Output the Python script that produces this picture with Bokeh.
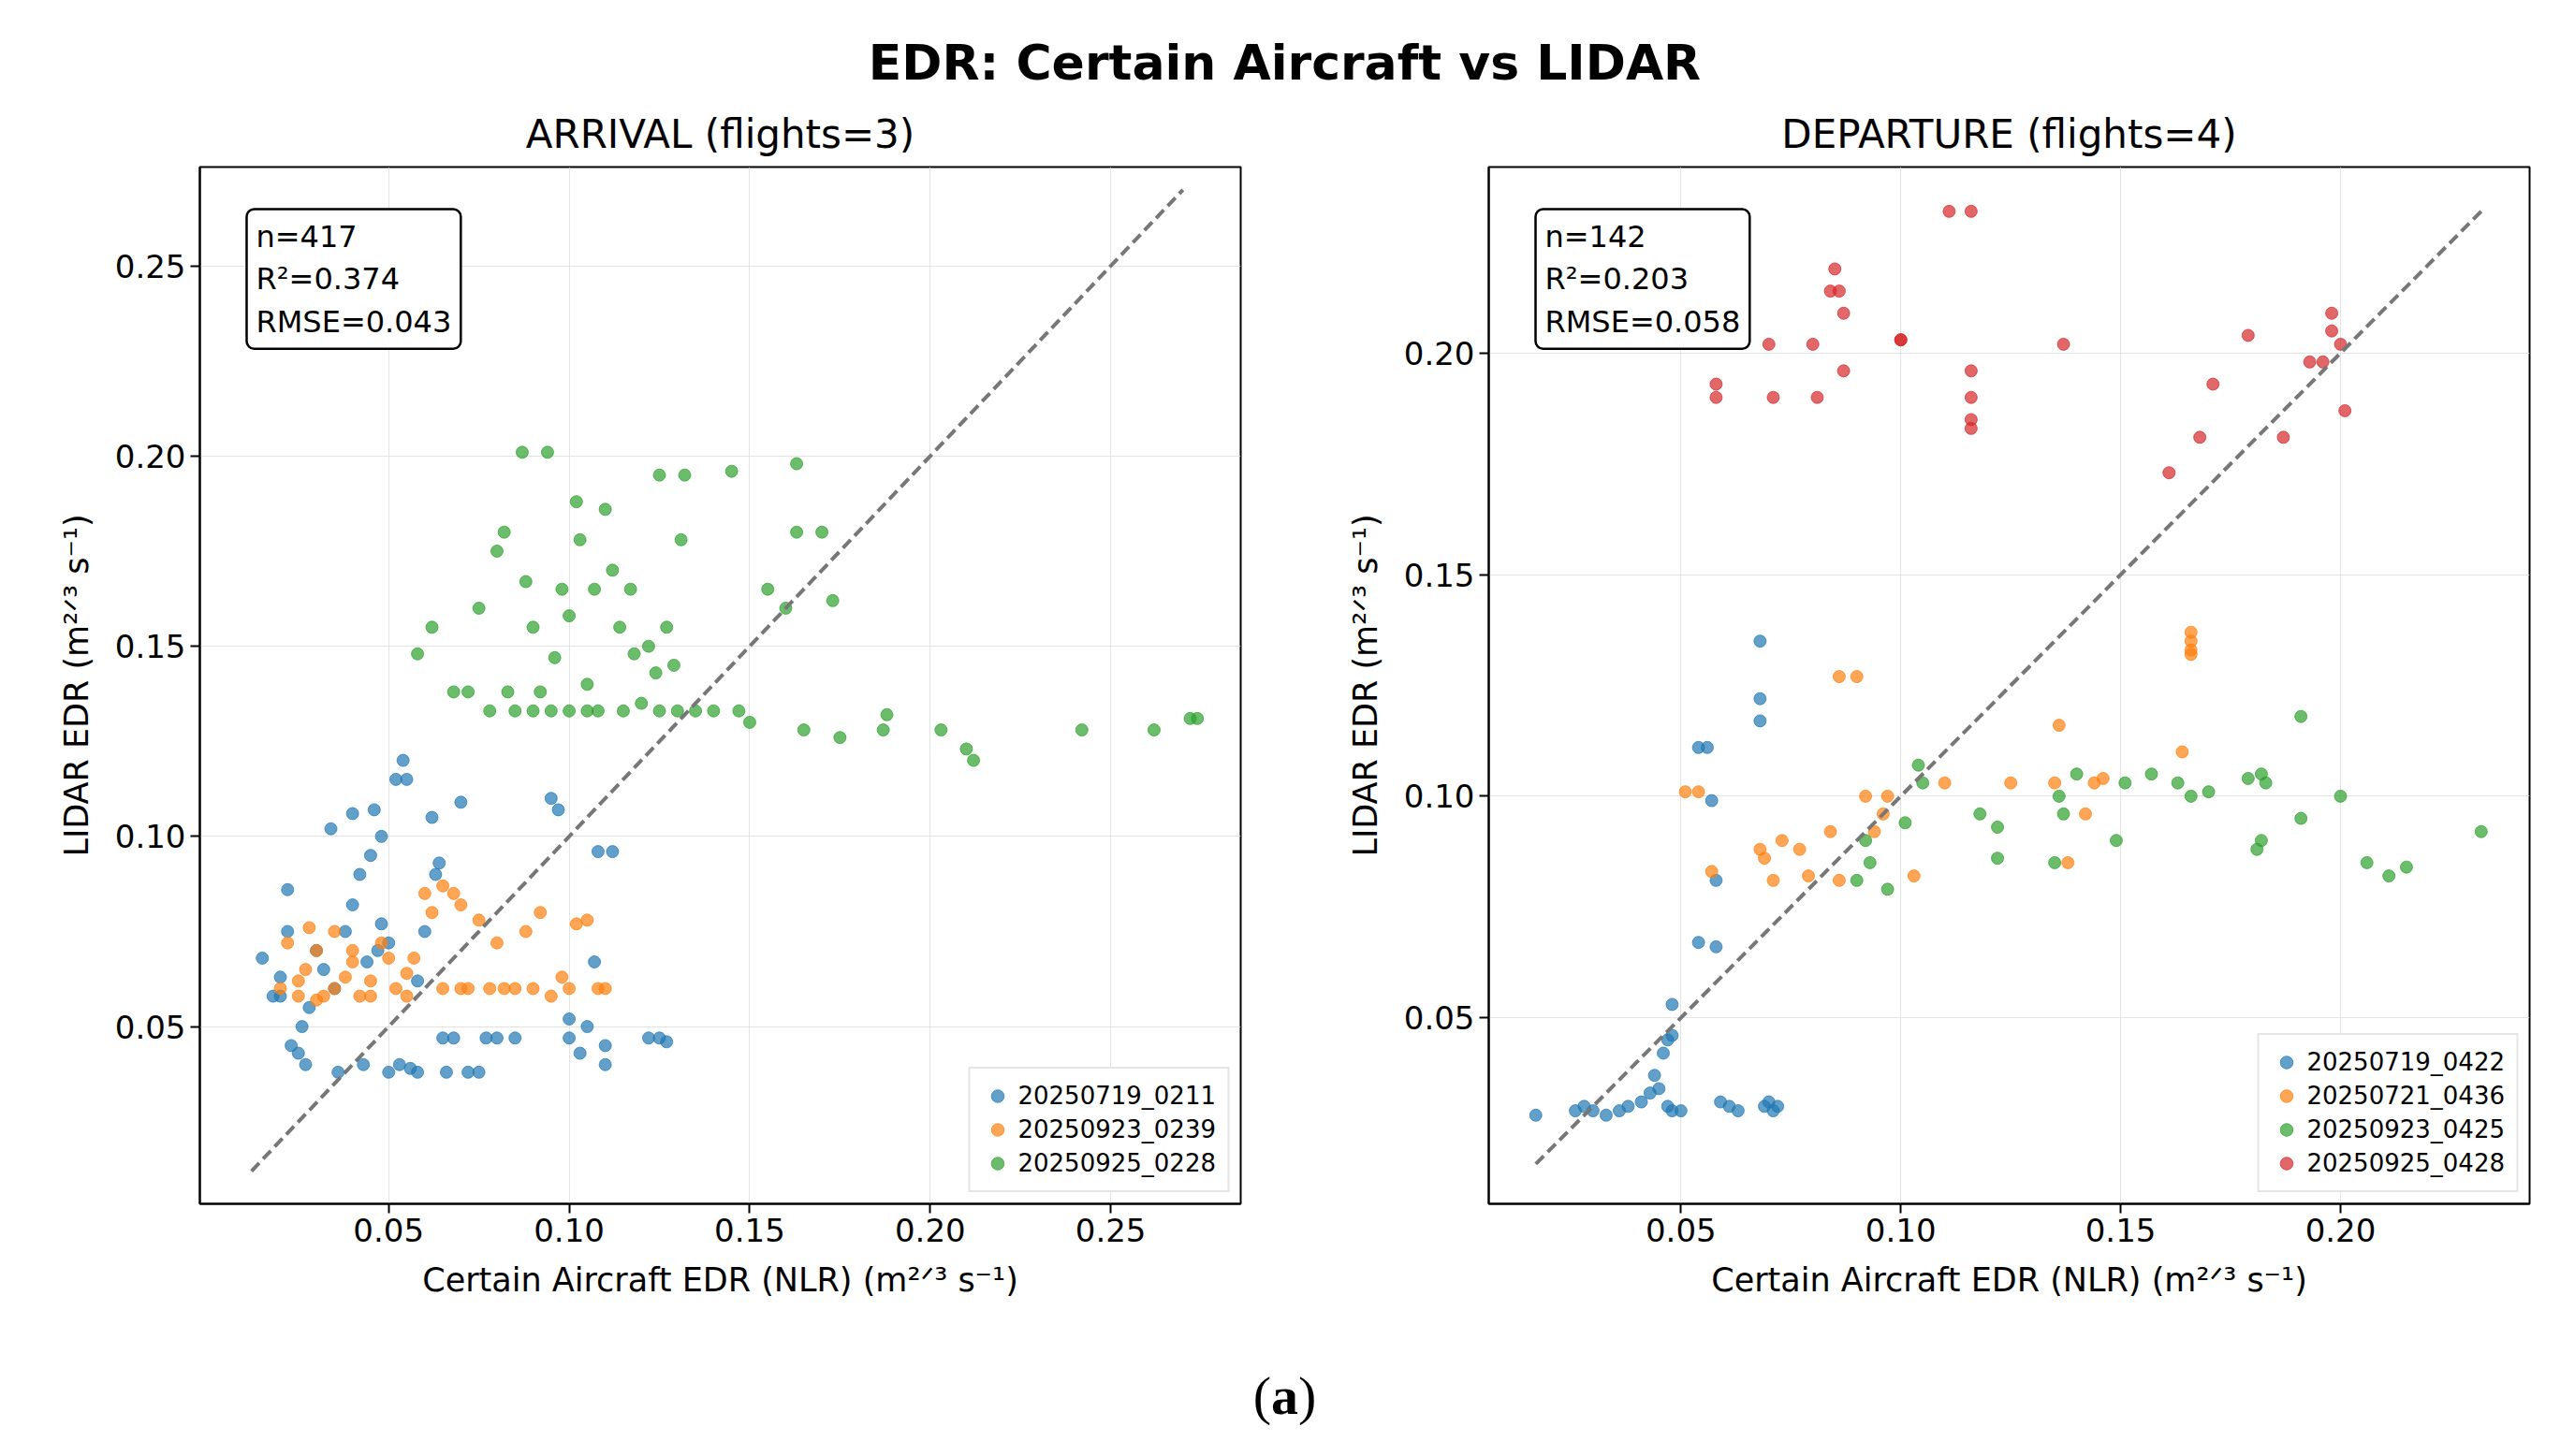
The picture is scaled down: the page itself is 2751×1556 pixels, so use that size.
from bokeh.plotting import figure
from bokeh.layouts import column, row
from bokeh.models import Div, Label, FixedTicker, NumeralTickFormatter, Range1d, Legend, LegendItem
from bokeh.embed import file_html
from bokeh.resources import INLINE

arr_blue_x = [0.015,0.018,0.02,0.022,0.022,0.023,0.025,0.027,0.028,0.03,0.032,0.034,0.035,0.036,0.038,0.04,0.04,0.042,0.043,0.045,0.046,0.047,0.048,0.048,0.05,0.052,0.053,0.054,0.055,0.056,0.058,0.06,0.062,0.063,0.064,0.065,0.066,0.068,0.07,0.072,0.075,0.077,0.08,0.085,0.095,0.097,0.1,0.1,0.103,0.105,0.107,0.108,0.11,0.11,0.112,0.122,0.125,0.127,0.02,0.026,0.044,0.05,0.058]
arr_blue_y = [0.068,0.058,0.063,0.075,0.086,0.045,0.043,0.04,0.055,0.07,0.065,0.102,0.06,0.038,0.075,0.082,0.106,0.09,0.04,0.095,0.107,0.07,0.077,0.1,0.038,0.115,0.04,0.12,0.115,0.039,0.038,0.075,0.105,0.09,0.093,0.047,0.038,0.047,0.109,0.038,0.038,0.047,0.047,0.047,0.11,0.107,0.047,0.052,0.043,0.05,0.067,0.096,0.04,0.045,0.096,0.047,0.047,0.046,0.058,0.05,0.067,0.072,0.062]
arr_orange_x = [0.02,0.022,0.025,0.027,0.028,0.03,0.032,0.035,0.038,0.04,0.042,0.045,0.048,0.05,0.052,0.055,0.057,0.06,0.062,0.065,0.068,0.07,0.072,0.075,0.078,0.08,0.082,0.085,0.088,0.09,0.092,0.095,0.098,0.1,0.102,0.105,0.108,0.11,0.065,0.07,0.045,0.035,0.025,0.03,0.04,0.055]
arr_orange_y = [0.06,0.072,0.058,0.065,0.076,0.07,0.058,0.075,0.063,0.07,0.058,0.062,0.072,0.068,0.06,0.058,0.068,0.085,0.08,0.087,0.085,0.082,0.06,0.078,0.06,0.072,0.06,0.06,0.075,0.06,0.08,0.058,0.063,0.06,0.077,0.078,0.06,0.06,0.06,0.06,0.058,0.06,0.062,0.057,0.067,0.064]
arr_green_x = [0.058,0.062,0.068,0.072,0.075,0.078,0.08,0.082,0.083,0.085,0.087,0.088,0.09,0.092,0.094,0.096,0.098,0.1,0.1,0.102,0.103,0.105,0.107,0.108,0.11,0.112,0.114,0.115,0.117,0.118,0.12,0.122,0.124,0.125,0.127,0.129,0.131,0.132,0.135,0.14,0.145,0.147,0.15,0.155,0.16,0.163,0.163,0.165,0.17,0.173,0.175,0.187,0.188,0.203,0.21,0.212,0.242,0.262,0.272,0.274,0.09,0.095,0.105,0.125,0.13]
arr_green_y = [0.148,0.155,0.138,0.138,0.16,0.133,0.175,0.18,0.138,0.133,0.201,0.167,0.155,0.138,0.201,0.147,0.165,0.158,0.133,0.188,0.178,0.14,0.165,0.133,0.186,0.17,0.155,0.133,0.165,0.148,0.135,0.15,0.143,0.195,0.155,0.145,0.178,0.195,0.133,0.133,0.196,0.133,0.13,0.165,0.16,0.18,0.198,0.128,0.18,0.162,0.126,0.128,0.132,0.128,0.123,0.12,0.128,0.128,0.131,0.131,0.133,0.133,0.133,0.133,0.133]

dep_blue_x = [0.017,0.026,0.028,0.03,0.033,0.036,0.038,0.041,0.043,0.044,0.045,0.046,0.047,0.048,0.048,0.047,0.048,0.05,0.054,0.054,0.056,0.057,0.058,0.058,0.059,0.061,0.063,0.068,0.068,0.068,0.069,0.07,0.071,0.072]
dep_blue_y = [0.028,0.029,0.03,0.029,0.028,0.029,0.03,0.031,0.033,0.037,0.034,0.042,0.045,0.046,0.053,0.03,0.029,0.029,0.067,0.111,0.111,0.099,0.081,0.066,0.031,0.03,0.029,0.135,0.122,0.117,0.03,0.031,0.029,0.03]
dep_orange_x = [0.051,0.054,0.057,0.068,0.069,0.073,0.071,0.077,0.079,0.084,0.086,0.086,0.09,0.092,0.094,0.096,0.097,0.103,0.11,0.125,0.135,0.136,0.138,0.142,0.144,0.146,0.164,0.166,0.166,0.166,0.166]
dep_orange_y = [0.101,0.101,0.083,0.088,0.086,0.09,0.081,0.088,0.082,0.092,0.081,0.127,0.127,0.1,0.092,0.096,0.1,0.082,0.103,0.103,0.103,0.116,0.085,0.096,0.103,0.104,0.11,0.137,0.135,0.132,0.133]
dep_green_x = [0.092,0.09,0.093,0.097,0.101,0.104,0.105,0.118,0.122,0.122,0.136,0.137,0.14,0.149,0.151,0.157,0.163,0.166,0.17,0.179,0.182,0.183,0.182,0.181,0.191,0.191,0.2,0.206,0.211,0.215,0.232,0.135]
dep_green_y = [0.09,0.081,0.085,0.079,0.094,0.107,0.103,0.096,0.093,0.086,0.1,0.096,0.105,0.09,0.103,0.105,0.103,0.1,0.101,0.104,0.105,0.103,0.09,0.088,0.118,0.095,0.1,0.085,0.082,0.084,0.092,0.085]
dep_red_x = [0.058,0.058,0.07,0.071,0.08,0.081,0.084,0.085,0.086,0.087,0.087,0.1,0.1,0.111,0.116,0.116,0.116,0.116,0.116,0.137,0.161,0.168,0.171,0.179,0.187,0.193,0.198,0.198,0.2,0.201,0.196]
dep_red_y = [0.193,0.19,0.202,0.19,0.202,0.19,0.214,0.219,0.214,0.209,0.196,0.203,0.203,0.232,0.232,0.196,0.19,0.185,0.183,0.202,0.173,0.181,0.193,0.204,0.181,0.198,0.209,0.205,0.202,0.187,0.198]

arr_labels = ["20250719_0211", "20250923_0239", "20250925_0228"]
dep_labels = ["20250719_0422", "20250721_0436", "20250923_0425", "20250925_0428"]
colors = ["#1f77b4", "#ff7f0e", "#2ca02c", "#d62728"]

FONT = "DejaVu Sans"

def make(title, series, labels, xr, yr, ticks, stats, bl, br, line):
    p = figure(title=title, output_backend="svg", toolbar_location=None,
               frame_width=1112, frame_height=1108,
               x_range=Range1d(*xr), y_range=Range1d(*yr),
               min_border_left=bl, min_border_right=br, min_border_top=60, min_border_bottom=160)
    p.title.align = "center"
    p.title.text_font = FONT
    p.title.text_font_size = "42px"
    p.title.text_font_style = "normal"
    p.title.text_color = "black"
    p.title.standoff = 22
    p.outline_line_color = "black"
    p.outline_line_width = 2
    items = []
    for (xs, ys), lab, c in zip(series, labels, colors):
        r = p.scatter(xs, ys, size=13, fill_color=c, line_color=c, fill_alpha=0.7, line_alpha=0.7)
        items.append(LegendItem(label=lab, renderers=[r]))
    p.line(line, line, line_dash="12 6", line_color="#777777", line_width=4)
    for ax in (p.xaxis, p.yaxis):
        ax.ticker = FixedTicker(ticks=ticks)
        ax.formatter = NumeralTickFormatter(format="0.00")
        ax.major_label_text_font = FONT
        ax.major_label_text_font_size = "34px"
        ax.major_label_text_color = "black"
        ax.axis_label_text_font = FONT
        ax.axis_label_text_font_size = "35px"
        ax.axis_label_text_font_style = "normal"
        ax.axis_label_text_color = "black"
        ax.axis_label_standoff = 18
        ax.minor_tick_line_color = None
        ax.major_tick_in = 0
        ax.major_tick_out = 10
        ax.major_tick_line_width = 2
        ax.axis_line_width = 2
    p.xaxis.axis_label = "Certain Aircraft EDR (NLR) (m²ᐟ³ s⁻¹)"
    p.yaxis.axis_label = "LIDAR EDR (m²ᐟ³ s⁻¹)"
    p.grid.grid_line_color = "#dddddd"
    p.grid.grid_line_alpha = 0.8
    leg = Legend(items=items, location="bottom_right", label_text_font=FONT,
                 label_text_font_size="26px", label_text_color="black", glyph_width=34, glyph_height=34,
                 border_line_color="#cccccc", border_line_width=2, spacing=2, padding=12, margin=12)
    p.add_layout(leg)
    p.add_layout(Label(x=50, y=1108 - 45, x_units="screen", y_units="screen", text=stats,
                       text_font=FONT, text_font_size="32px", text_baseline="top", text_color="black",
                       border_line_color="black", border_line_width=2.5,
                       background_fill_color="white", padding=10, border_radius=8))
    return p

p1 = make("ARRIVAL (flights=3)",
          [(arr_blue_x, arr_blue_y), (arr_orange_x, arr_orange_y), (arr_green_x, arr_green_y)],
          arr_labels, (-0.0023, 0.286), (0.0034, 0.276), [0.05, 0.10, 0.15, 0.20, 0.25],
          "n=417\nR²=0.374\nRMSE=0.043", 213, 107, [0.012, 0.27])
p2 = make("DEPARTURE (flights=4)",
          [(dep_blue_x, dep_blue_y), (dep_orange_x, dep_orange_y), (dep_green_x, dep_green_y), (dep_red_x, dep_red_y)],
          dep_labels, (0.0063, 0.243), (0.008, 0.242), [0.05, 0.10, 0.15, 0.20],
          "n=142\nR²=0.203\nRMSE=0.058", 158, 33, [0.017, 0.232])

title = Div(text="<b>EDR: Certain Aircraft vs LIDAR</b>", width=2735, height=70,
            styles={"text-align": "center", "font-family": FONT, "font-size": "52px", "margin-top": "30px", "color": "black"})
sub = Div(text="(<b>a</b>)", width=2735, height=90,
          styles={"text-align": "center", "font-family": "Liberation Serif", "font-size": "58px"})
layout = column(title, row(p1, p2), sub)
open("out.html", "w").write(file_html(layout, INLINE))
